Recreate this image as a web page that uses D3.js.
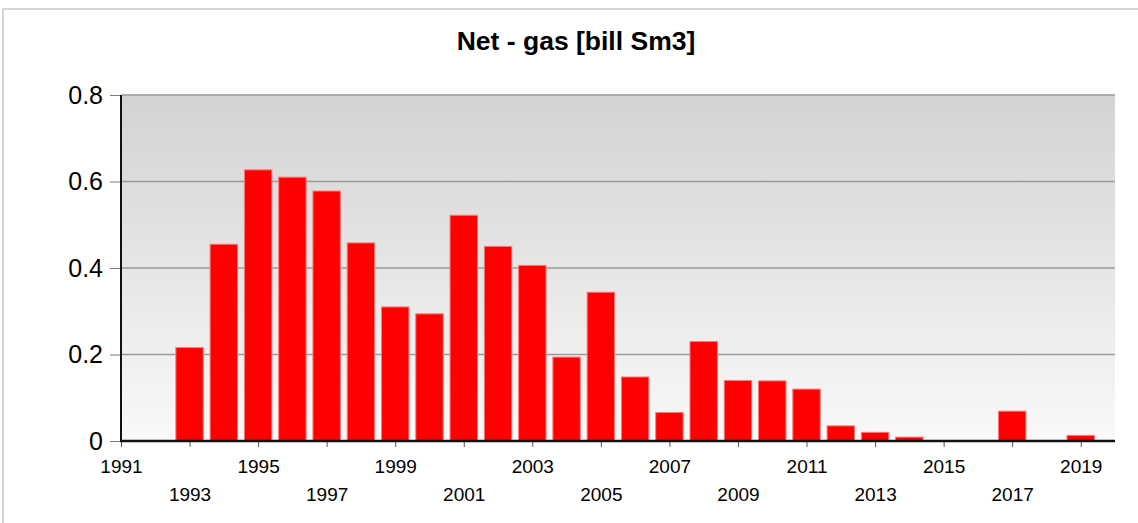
<!DOCTYPE html>
<html>
<head>
<meta charset="utf-8">
<script src="https://cdn.jsdelivr.net/npm/d3@7"></script>
<style>
    html, body { margin: 0; padding: 0; background: #ffffff; }
    svg { display: block; font-family: "Liberation Sans", Arial, sans-serif; }
</style>
</head>
<body>
<div id="chart"></div>
<script>
// Chart data
const years = [1991, 1992, 1993, 1994, 1995, 1996, 1997, 1998, 1999, 2000,
    2001, 2002, 2003, 2004, 2005, 2006, 2007, 2008, 2009, 2010,
    2011, 2012, 2013, 2014, 2015, 2016, 2017, 2018, 2019];
const netGas = [0, 0, 0.216, 0.455, 0.627, 0.610, 0.578, 0.458, 0.310, 0.294,
    0.522, 0.450, 0.406, 0.194, 0.344, 0.148, 0.066, 0.230, 0.140, 0.139,
    0.120, 0.035, 0.020, 0.009, 0, 0, 0.069, 0, 0.013];
const yTicks = [0, 0.2, 0.4, 0.6, 0.8];
const xTicks = [1991, 1993, 1995, 1997, 1999, 2001, 2003, 2005, 2007, 2009,
    2011, 2013, 2015, 2017, 2019];
const title = "Net - gas [bill Sm3]";

const width = 1138;
const height = 523;
const margin = { top: 95, right: 23, bottom: 82, left: 121 };
const plotW = width - margin.left - margin.right;
const plotH = height - margin.top - margin.bottom;

const svg = d3.select("#chart")
    .append("svg")
    .attr("width", width)
    .attr("height", height);

// outer frame
svg.append("rect")
    .attr("x", 3)
    .attr("y", 9)
    .attr("width", width + 10)
    .attr("height", height + 10)
    .attr("fill", "none")
    .attr("stroke", "#d6d6d6")
    .attr("stroke-width", 2);

// background gradient
const grad = svg.append("defs")
    .append("linearGradient")
    .attr("id", "bg")
    .attr("x1", 0).attr("y1", 0)
    .attr("x2", 0).attr("y2", 1);
grad.append("stop").attr("offset", "0%").attr("stop-color", "#d3d3d3");
grad.append("stop").attr("offset", "100%").attr("stop-color", "#f9f9f9");

svg.append("text")
    .attr("x", 576)
    .attr("y", 50)
    .attr("text-anchor", "middle")
    .attr("font-size", 26.5)
    .attr("font-weight", "bold")
    .attr("fill", "#000")
    .text(title);

const g = svg.append("g")
    .attr("transform", `translate(${margin.left},${margin.top})`);

const x = d3.scaleLinear()
    .domain([1991, 2020])
    .range([0, plotW]);

const y = d3.scaleLinear()
    .domain([0, 0.8])
    .range([plotH, 0]);

const step = x(1992) - x(1991);
const barW = step * 0.8;

g.append("rect")
    .attr("width", plotW)
    .attr("height", plotH)
    .attr("fill", "url(#bg)");

// grid lines
g.selectAll(".grid")
    .data(yTicks.filter(d => d > 0))
    .join("line")
    .attr("class", "grid")
    .attr("x1", 0)
    .attr("x2", plotW)
    .attr("y1", d => y(d))
    .attr("y2", d => y(d))
    .attr("stroke", "#9a9a9a")
    .attr("stroke-width", 1.5);

// bars
g.selectAll(".bar")
    .data(years.map((yr, i) => ({ yr: yr, v: netGas[i] })).filter(d => d.v > 0))
    .join("rect")
    .attr("class", "bar")
    .attr("x", d => x(d.yr) - barW / 2)
    .attr("width", barW)
    .attr("y", d => y(d.v))
    .attr("height", d => plotH - y(d.v))
    .attr("fill", "#ff0000")
    .attr("stroke", "#ff7a7a")
    .attr("stroke-width", 1);

// y axis
const yAxis = g.append("g")
    .call(d3.axisLeft(y)
        .tickValues(yTicks)
        .tickSize(11)
        .tickPadding(7)
        .tickFormat(d => d === 0 ? "0" : d.toFixed(1)));
yAxis.select(".domain").remove();
yAxis.selectAll(".tick line").attr("stroke", "#7a7a7a");
yAxis.selectAll(".tick text")
    .attr("font-size", 25)
    .attr("font-family", "Liberation Sans, Arial, sans-serif")
    .attr("fill", "#000");

// x axis
const xAxis = g.append("g")
    .attr("transform", `translate(0,${plotH})`)
    .call(d3.axisBottom(x)
        .tickValues(xTicks)
        .tickSize(6)
        .tickFormat(d3.format("d")));
xAxis.select(".domain").remove();
xAxis.selectAll(".tick line").attr("stroke", "#555");
xAxis.selectAll(".tick text")
    .attr("font-size", 19)
    .attr("font-family", "Liberation Sans, Arial, sans-serif")
    .attr("fill", "#000")
    .attr("dy", null)
    .attr("y", (d, i) => i % 2 === 0 ? 32 : 60);

// axis lines
g.append("line")
    .attr("x1", 0).attr("x2", 0)
    .attr("y1", 0).attr("y2", plotH)
    .attr("stroke", "#111")
    .attr("stroke-width", 2);
g.append("line")
    .attr("x1", -1).attr("x2", plotW)
    .attr("y1", plotH).attr("y2", plotH)
    .attr("stroke", "#111")
    .attr("stroke-width", 2.5);
</script>
</body>
</html>
